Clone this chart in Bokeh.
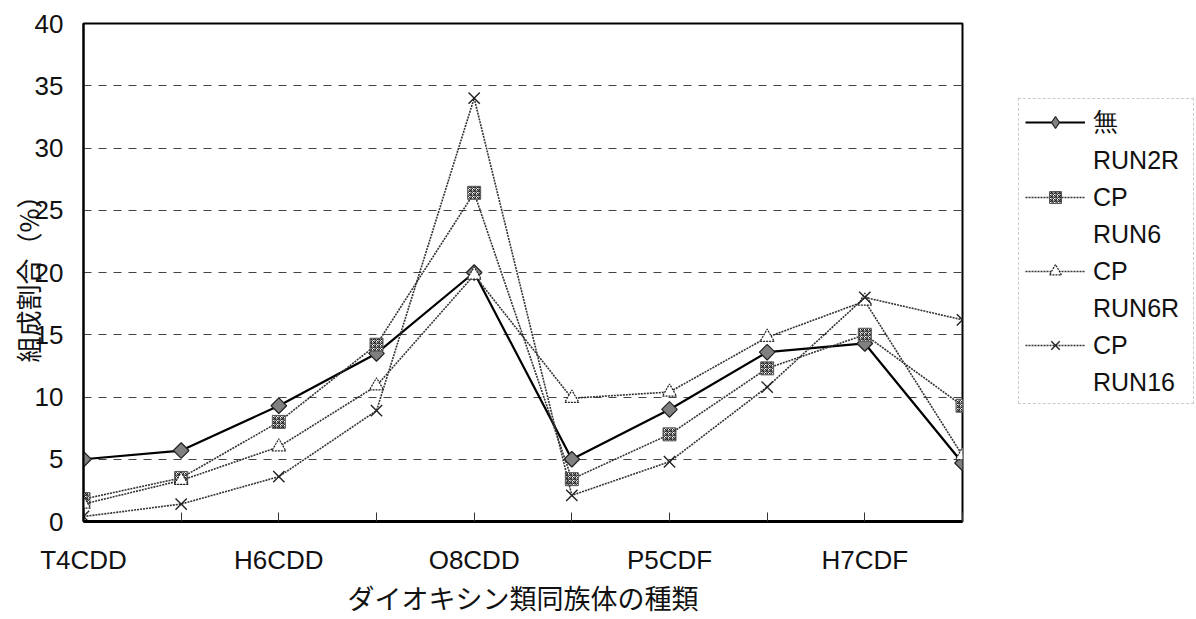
from bokeh.plotting import figure
from bokeh.models import Range1d, FixedTicker, Legend, LegendItem, ColumnDataSource
from bokeh.layouts import row
from bokeh.embed import file_html
from bokeh.resources import INLINE
import math

categories = ["T4CDD", "P5CDD", "H6CDD", "H7CDD", "O8CDD",
              "T4CDF", "P5CDF", "H6CDF", "H7CDF", "O8CDF"]
shown_labels = ["T4CDD", "", "H6CDD", "", "O8CDD", "", "P5CDF", "", "H7CDF", ""]
y_ticks = [0, 5, 10, 15, 20, 25, 30, 35, 40]

run2r = [5.0, 5.7, 9.3, 13.5, 20.0, 5.0, 9.0, 13.6, 14.3, 4.7]
run6 = [1.8, 3.5, 8.0, 14.2, 26.4, 3.4, 7.0, 12.3, 15.0, 9.3]
run6r = [1.4, 3.3, 6.0, 10.9, 19.8, 9.9, 10.4, 14.8, 17.7, 5.3]
run16 = [0.4, 1.4, 3.6, 8.9, 34.0, 2.1, 4.8, 10.8, 18.0, 16.2]
series_names = ["無\nRUN2R", "CP\nRUN6", "CP\nRUN6R", "CP\nRUN16"]

xs = list(range(len(categories)))

p = figure(width=1000, height=619, x_range=Range1d(0, 9), y_range=Range1d(0, 40),
           output_backend="svg", toolbar_location=None,
           min_border_left=83, min_border_right=38, min_border_top=23, min_border_bottom=96)

p.outline_line_color = "black"
p.outline_line_width = 2
p.background_fill_color = "white"
p.border_fill_color = "white"

p.xgrid.visible = False
p.ygrid.ticker = FixedTicker(ticks=[5, 10, 15, 20, 25, 30, 35])
p.ygrid.grid_line_color = "#444444"
p.ygrid.grid_line_dash = "8 7"
p.ygrid.grid_line_width = 1

p.yaxis.ticker = FixedTicker(ticks=y_ticks)
p.yaxis.major_tick_out = 0
p.yaxis.major_tick_in = 0
p.yaxis.minor_tick_out = 0
p.yaxis.minor_tick_in = 0
p.yaxis.axis_line_width = 2
p.yaxis.axis_line_color = "black"
p.yaxis.major_label_text_font = "Liberation Sans"
p.yaxis.major_label_text_font_size = "26px"
p.yaxis.major_label_text_color = "#111111"
p.yaxis.major_label_standoff = 20
p.yaxis.axis_label = "組成割合（%）"
p.yaxis.axis_label_text_font = "Noto Sans CJK JP"
p.yaxis.axis_label_text_font_style = "normal"
p.yaxis.axis_label_text_font_size = "26px"
p.yaxis.axis_label_text_color = "#111111"
p.yaxis.axis_label_standoff = -14

p.xaxis.ticker = FixedTicker(ticks=xs)
p.xaxis.major_label_overrides = {i: lab for i, lab in enumerate(shown_labels)}
p.xaxis.major_tick_out = 0
p.xaxis.major_tick_in = 9
p.xaxis.major_tick_line_color = "#333333"
p.xaxis.minor_tick_out = 0
p.xaxis.minor_tick_in = 0
p.xaxis.axis_line_width = 3
p.xaxis.axis_line_color = "black"
p.xaxis.major_label_text_font = "Liberation Sans"
p.xaxis.major_label_text_font_size = "26px"
p.xaxis.major_label_text_color = "#111111"
p.xaxis.major_label_standoff = 23
p.xaxis.axis_label = "ダイオキシン類同族体の種類"
p.xaxis.axis_label_text_font = "Noto Sans CJK JP"
p.xaxis.axis_label_text_font_style = "normal"
p.xaxis.axis_label_text_font_size = "27px"
p.xaxis.axis_label_text_color = "#111111"
p.xaxis.axis_label_standoff = 0

src = ColumnDataSource(dict(x=xs, a=run2r, b=run6, c=run6r, d=run16))

dot = "2 1"
styles = [
    dict(line=dict(line_color="black", line_width=2.2),
         marker=dict(marker="square", size=11, angle=math.pi / 4,
                     fill_color="#808080", line_color="#222222", line_width=1.2)),
    dict(line=dict(line_color="#333333", line_width=1.6, line_dash=dot),
         marker=dict(marker="square", size=13, fill_color="white", line_color="#555555",
                     line_width=1, hatch_pattern="criss_cross", hatch_color="#222222",
                     hatch_scale=4, hatch_weight=1)),
    dict(line=dict(line_color="#333333", line_width=1.6, line_dash=dot),
         marker=dict(marker="triangle", size=14, fill_color="white",
                     line_color="#222222", line_width=1.2, line_dash="2 1")),
    dict(line=dict(line_color="#333333", line_width=1.6, line_dash=dot),
         marker=dict(marker="x", size=16, line_color="#222222", line_width=1.4)),
]

for col, st in zip(["a", "b", "c", "d"], styles):
    p.line("x", col, source=src, **st["line"])
    p.scatter("x", col, source=src, **st["marker"])

# legend panel (dummy renderers lie outside the visible range)
lg = figure(width=196, height=619, x_range=Range1d(0, 1), y_range=Range1d(0, 1),
            output_backend="svg", toolbar_location=None,
            x_axis_type=None, y_axis_type=None, min_border=0)
lg.outline_line_color = None
lg.xgrid.visible = False
lg.ygrid.visible = False
dummy = ColumnDataSource(dict(x=[-5, -4], y=[-5, -4]))
blank = lg.line("x", "y", source=dummy, line_alpha=0)
items = []
for name, st in zip(series_names, styles):
    first, second = name.split("\n")
    r1 = lg.line("x", "y", source=dummy, **st["line"])
    mk = dict(st["marker"])
    if mk.get("angle"):
        mk.pop("angle")
        mk["marker"] = "diamond"
        mk["size"] = 17
    r2 = lg.scatter("x", "y", source=dummy, **mk)
    items.append(LegendItem(label=first, renderers=[r1, r2]))
    items.append(LegendItem(label=second, renderers=[blank]))

legend = Legend(items=items, location=(18, 117))
legend.label_text_font = "Liberation Sans"
legend.label_text_font_size = "25px"
legend.label_text_color = "#111111"
legend.label_standoff = 8
legend.label_width = 94
legend.glyph_width = 60
legend.glyph_height = 30
legend.label_height = 30
legend.spacing = 7
legend.padding = 6
legend.border_line_color = "#999999"
legend.border_line_dash = "1 2"
legend.border_line_width = 1
legend.background_fill_color = "white"
legend.background_fill_alpha = 1
lg.add_layout(legend, "center")

layout = row(p, lg)
open("out.html", "w").write(file_html(layout, INLINE))
